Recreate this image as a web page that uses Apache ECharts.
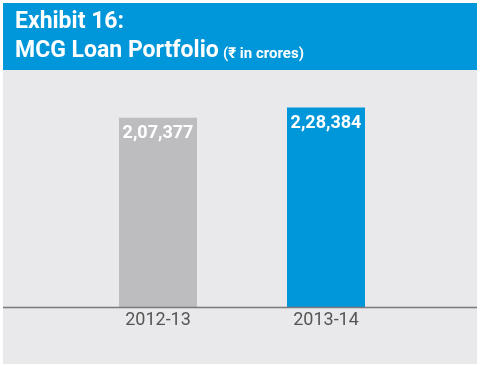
<!DOCTYPE html>
<html><head><meta charset="utf-8">
<script src="https://cdn.jsdelivr.net/npm/echarts@6/dist/echarts.min.js"></script>
<style>html,body{margin:0;padding:0;background:#fff}#c{width:480px;height:366px}</style>
</head><body><div id="c"></div>
<script>
var categories = ['2012-13', '2013-14'];
var values = [207377, 228384];
var valueLabels = ['2,07,377', '2,28,384'];
var barColors = ['#BDBDBF', '#0096DA'];
var titleLine1 = 'Exhibit 16:';
var titleLine2 = 'MCG Loan Portfolio';
var titleUnit = '(\u20B9 in crores)';

var chart = echarts.init(document.getElementById('c'), null, {renderer: 'canvas'});
var font = 'Roboto, "Noto Sans", sans-serif';
function ttl(text, left, top, size) {
  return {
    text: text, left: left, top: top, padding: 0,
    textStyle: {color: '#fff', fontFamily: font, fontWeight: 'bold', fontSize: size, lineHeight: size}
  };
}
chart.setOption({
  animation: false,
  graphic: [
    {type: 'rect', shape: {x: 3, y: 70, width: 474, height: 294}, style: {fill: '#E9E8EB'}, z: -10},
    {type: 'rect', shape: {x: 3, y: 3, width: 474, height: 67}, style: {fill: '#0096DA'}, z: -10},
    {type: 'line', shape: {x1: 3, y1: 307.5, x2: 477, y2: 307.5}, style: {stroke: '#7A7A7C', lineWidth: 1.5}, z: 10}
  ],
  title: [
    ttl(titleLine1, 15, 10.5, 23),
    ttl(titleLine2, 15, 39.5, 23),
    ttl(titleUnit, 223, 46.5, 15)
  ],
  grid: {left: 74, right: 70, top: 70, bottom: 58.5},
  xAxis: {
    type: 'category', data: categories,
    axisLine: {show: false}, axisTick: {show: false},
    axisLabel: {color: '#555', fontFamily: font, fontSize: 18, margin: 4}
  },
  yAxis: {
    type: 'value', min: -176000, max: 304000, startValue: -176000,
    axisLine: {show: false}, axisTick: {show: false}, axisLabel: {show: false}, splitLine: {show: false}
  },
  series: [{
    type: 'bar', barWidth: 78,
    data: values.map(function (v, i) { return {value: v, itemStyle: {color: barColors[i]}}; }),
    label: {
      show: true, position: 'insideTop', distance: 7,
      formatter: function (p) { return valueLabels[p.dataIndex]; },
      color: '#fff', fontFamily: font, fontWeight: 'bold', fontSize: 18
    }
  }]
});
</script></body></html>
